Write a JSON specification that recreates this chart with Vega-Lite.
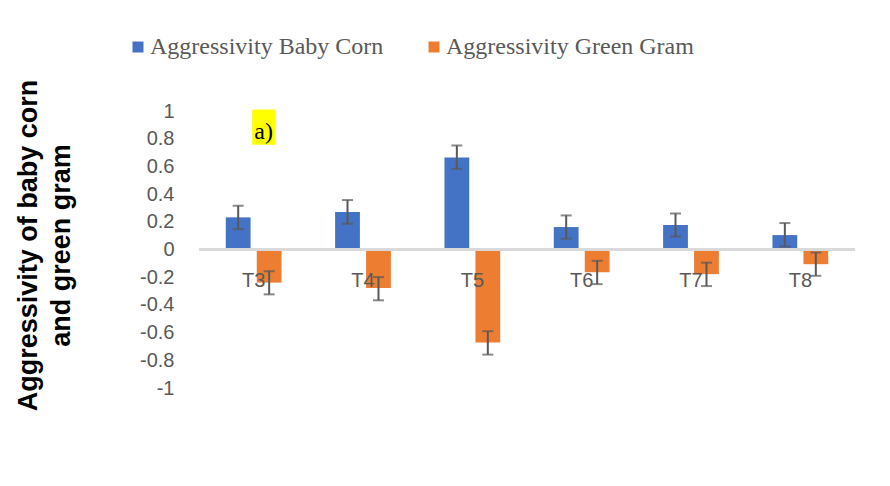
{
  "$schema": "https://vega.github.io/schema/vega-lite/v6.json",
  "width": 656,
  "height": 277,
  "autosize": {"type": "none"},
  "padding": {"left": 199, "top": 111, "right": 35, "bottom": 98},
  "background": "white",
  "config": {"view": {"stroke": null}, "font": "Liberation Sans", "axis": {"labelOverlap": false}},
  "data": {
    "values": [
      {"cat": "T3", "series": "Aggressivity Baby Corn", "value": 0.232, "lo": 0.147, "hi": 0.316},
      {"cat": "T3", "series": "Aggressivity Green Gram", "value": -0.239, "lo": -0.324, "hi": -0.157},
      {"cat": "T4", "series": "Aggressivity Baby Corn", "value": 0.27, "lo": 0.186, "hi": 0.357},
      {"cat": "T4", "series": "Aggressivity Green Gram", "value": -0.278, "lo": -0.367, "hi": -0.199},
      {"cat": "T5", "series": "Aggressivity Baby Corn", "value": 0.664, "lo": 0.582, "hi": 0.751},
      {"cat": "T5", "series": "Aggressivity Green Gram", "value": -0.672, "lo": -0.759, "hi": -0.59},
      {"cat": "T6", "series": "Aggressivity Baby Corn", "value": 0.162, "lo": 0.078, "hi": 0.246},
      {"cat": "T6", "series": "Aggressivity Green Gram", "value": -0.164, "lo": -0.25, "hi": -0.082},
      {"cat": "T7", "series": "Aggressivity Baby Corn", "value": 0.177, "lo": 0.094, "hi": 0.26},
      {"cat": "T7", "series": "Aggressivity Green Gram", "value": -0.178, "lo": -0.264, "hi": -0.095},
      {"cat": "T8", "series": "Aggressivity Baby Corn", "value": 0.104, "lo": 0.022, "hi": 0.191},
      {"cat": "T8", "series": "Aggressivity Green Gram", "value": -0.106, "lo": -0.19, "hi": -0.022}
    ]
  },
  "layer": [
    {
      "mark": {"type": "bar"},
      "encoding": {
        "x": {"field": "cat", "type": "nominal", "sort": ["T3","T4","T5","T6","T7","T8"], "scale": {"paddingInner": 0.49, "paddingOuter": 0.245}, "axis": null},
        "xOffset": {"field": "series", "type": "nominal", "scale": {"domain": ["Aggressivity Baby Corn", "Aggressivity Green Gram"], "paddingInner": 0.2, "paddingOuter": 0}},
        "y": {
          "field": "value", "type": "quantitative",
          "scale": {"domain": [-1, 1], "nice": false, "zero": false},
          "axis": {
            "title": ["Aggressivity of baby corn", "and green gram"],
            "titleFontSize": 27, "titleFontWeight": "bold", "titleColor": "black", "titleFont": "Liberation Sans",
            "titleAngle": -90, "titleX": -184, "titleY": 134, "titleAlign": "center", "titleBaseline": "top", "titleLineHeight": 33,
            "domain": false, "ticks": false, "grid": false, "labelOverlap": false, "tickCount": 11,
            "values": [1, 0.8, 0.6, 0.4, 0.2, 0, -0.2, -0.4, -0.6, -0.8, -1],
            "labelExpr": "'' + round(datum.value*10)/10",
            "labelFontSize": 20, "labelColor": "#595959", "labelPadding": 25, "labelFont": "Liberation Sans"
          }
        },
        "color": {
          "field": "series", "type": "nominal",
          "scale": {"domain": ["Aggressivity Baby Corn", "Aggressivity Green Gram"], "range": ["#4472C4", "#ED7D31"]},
          "legend": {
            "orient": "none", "legendX": -73, "legendY": -76, "direction": "horizontal", "title": null,
            "symbolType": "square", "symbolSize": 121, "symbolStrokeWidth": 0,
            "labelFont": "Liberation Serif", "labelFontSize": 24, "labelColor": "#595959", "labelLimit": 400,
            "columnPadding": 38, "labelOffset": 0
          }
        }
      }
    },
    {
      "mark": {"type": "rule", "color": "#d9d9d9", "strokeWidth": 2},
      "encoding": {"y": {"datum": 0}}
    },
    {
      "mark": {"type": "rule", "color": "#595959", "strokeWidth": 2},
      "encoding": {
        "x": {"field": "cat", "type": "nominal", "sort": ["T3","T4","T5","T6","T7","T8"]},
        "xOffset": {"field": "series", "type": "nominal"},
        "y": {"field": "lo", "type": "quantitative"},
        "y2": {"field": "hi"}
      }
    },
    {
      "mark": {"type": "tick", "color": "#595959", "thickness": 2, "size": 11, "orient": "horizontal"},
      "encoding": {
        "x": {"field": "cat", "type": "nominal", "sort": ["T3","T4","T5","T6","T7","T8"]},
        "xOffset": {"field": "series", "type": "nominal"},
        "y": {"field": "lo", "type": "quantitative"}
      }
    },
    {
      "mark": {"type": "tick", "color": "#595959", "thickness": 2, "size": 11, "orient": "horizontal"},
      "encoding": {
        "x": {"field": "cat", "type": "nominal", "sort": ["T3","T4","T5","T6","T7","T8"]},
        "xOffset": {"field": "series", "type": "nominal"},
        "y": {"field": "hi", "type": "quantitative"}
      }
    },
    {
      "transform": [{"filter": "datum.series == 'Aggressivity Baby Corn'"}],
      "mark": {"type": "text", "fontSize": 20, "color": "#595959", "font": "Liberation Sans", "baseline": "middle", "align": "center", "dy": 31},
      "encoding": {
        "x": {"field": "cat", "type": "nominal", "sort": ["T3","T4","T5","T6","T7","T8"]},
        "y": {"datum": 0},
        "text": {"field": "cat"}
      }
    },
    {
      "data": {"values": [{"label": "a)"}]},
      "mark": {"type": "bar", "color": "#ffff00", "width": 23, "xOffset": 10},
      "encoding": {
        "x": {"datum": "T3"},
        "y": {"datum": 1.01},
        "y2": {"datum": 0.757}
      }
    },
    {
      "data": {"values": [{"label": "a)"}]},
      "mark": {"type": "text", "fontSize": 24, "color": "black", "font": "Liberation Serif", "baseline": "middle", "align": "center", "dx": 10},
      "encoding": {
        "x": {"datum": "T3"},
        "y": {"datum": 0.85},
        "text": {"field": "label"}
      }
    }
  ]
}
